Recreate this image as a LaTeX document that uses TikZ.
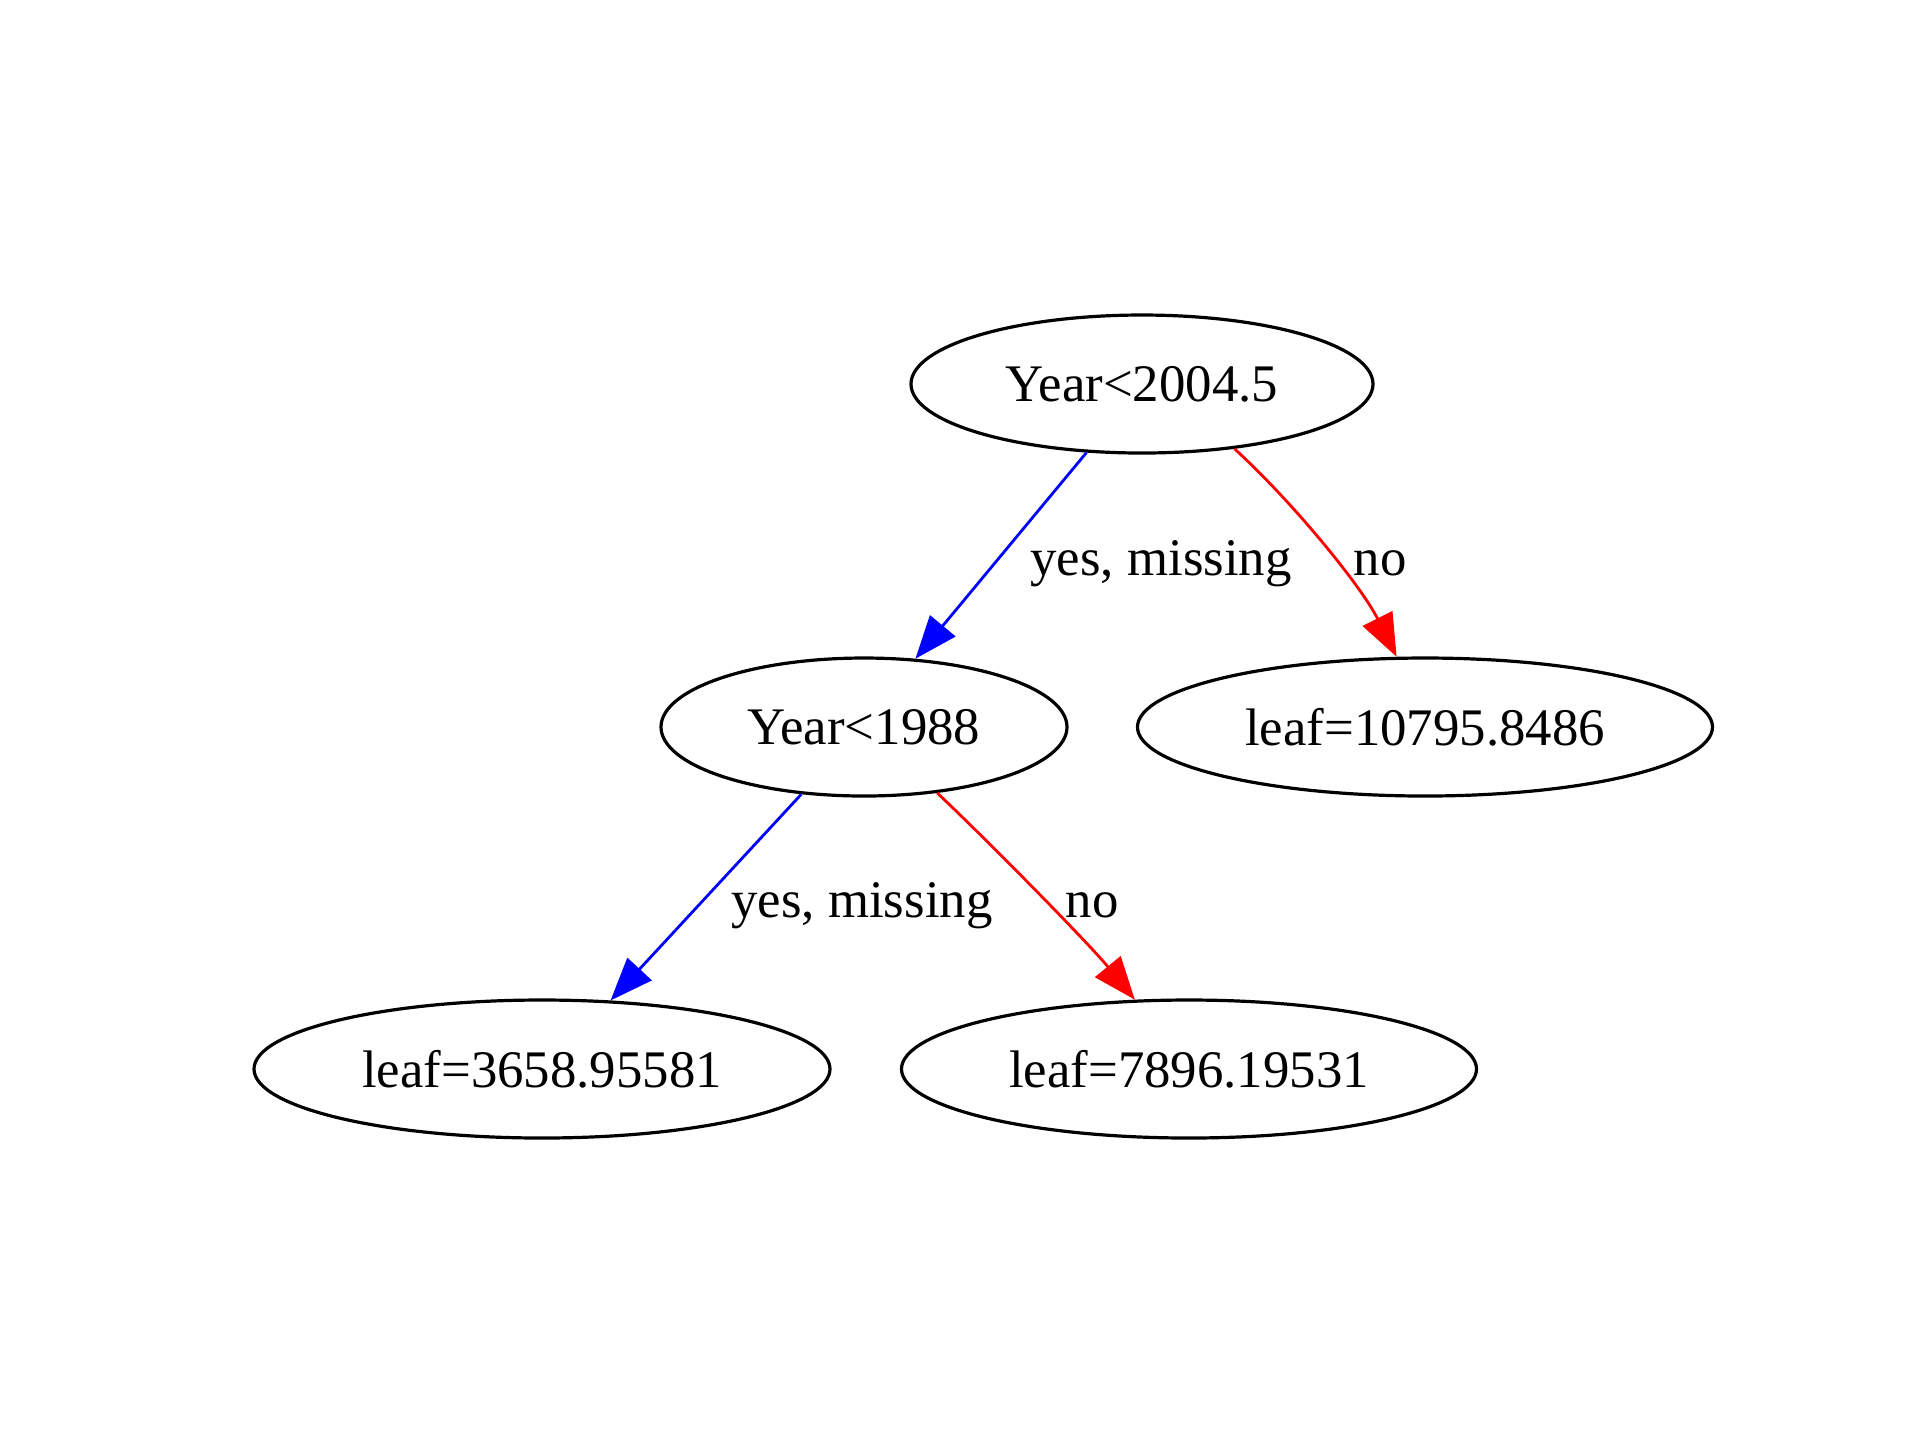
\documentclass[tikz,border=0pt]{standalone}
\usepackage{fontspec}
\setmainfont{Liberation Serif}
\usetikzlibrary{shapes.geometric,arrows.meta}
\begin{document}
\begin{tikzpicture}[x=0.25pt,y=-0.25pt,
  split/.style={ellipse, draw, line width=0.8pt, inner sep=0pt, minimum height=34.5pt,
    font=\fontsize{13.2}{15}\selectfont},
  lbl/.style={inner sep=0pt, font=\fontsize{13.2}{15}\selectfont},
  yesedge/.style={draw=blue, line width=0.7pt, -{Triangle[length=10.7pt,width=8.2pt]}},
  noedge/.style={draw=red, line width=0.7pt, -{Triangle[length=10.7pt,width=8.2pt]}}
]
\useasboundingbox[fill=white] (0,0) rectangle (1920,1440);

\node[split, minimum width=115.5pt] (n0) at (1142,384) {Year<2004.5};
\node[split, minimum width=101.5pt] (n1) at (864,727) {Year<1988};
\node[split, minimum width=143.75pt] (n2) at (1425,727) {leaf=10795.8486};
\node[split, minimum width=144pt] (n3) at (542,1069) {leaf=3658.95581};
\node[split, minimum width=143.75pt] (n4) at (1189,1069) {leaf=7896.19531};

\draw[yesedge] (n0.231) -- (n1.53);
\draw[noedge] (n0.325) .. controls +(60,55) and +(-35,-70) .. (n2.112);
\draw[yesedge] (n1.227) -- (n3.45);
\draw[noedge] (n1.318) .. controls +(55,52) and +(-45,-55) .. (n4.128);

\node[lbl, anchor=base] (l1) at (1161,575) {yes, missing};
\node[lbl, anchor=base] (l2) at (1380,575) {no};
\node[lbl, anchor=base] (l3) at (862,917) {yes, missing};
\node[lbl, anchor=base] (l4) at (1092,917) {no};
\end{tikzpicture}
\end{document}
